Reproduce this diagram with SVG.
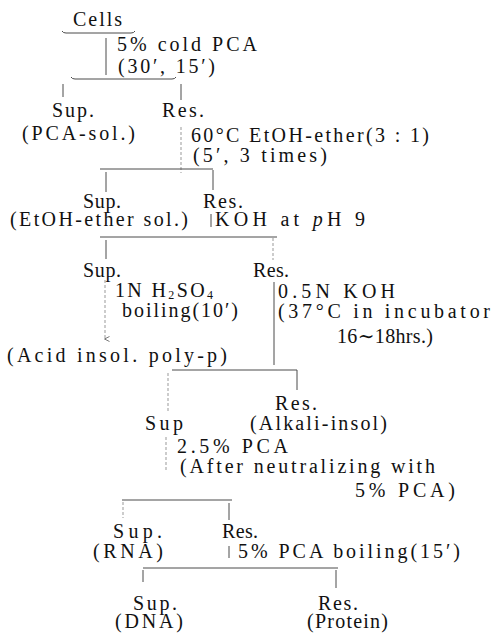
<svg xmlns="http://www.w3.org/2000/svg" width="493" height="633" viewBox="0 0 493 633">
<style>
text{font-family:"Liberation Serif","DejaVu Serif",serif;font-size:20px;fill:#111}
.c line,.c path{stroke:#4a4a4a;stroke-width:1;fill:none}
.c .f{stroke:#999;stroke-dasharray:3 2}
.sub{font-size:12px}
</style>
<defs>
<marker id="ah" viewBox="0 0 6 6" refX="3" refY="5" markerWidth="6" markerHeight="6" orient="auto-start-reverse" markerUnits="userSpaceOnUse">
<path d="M0.5,0.5 L3,5.5 L5.5,0.5" fill="none" stroke="#555" stroke-width="0.8"/>
</marker>
</defs>
<rect width="493" height="633" fill="#fff"/>
<g class="c" id="connectors">
<path d="M62,31 Q63,33 66,33 L131,33 Q134,33 135,31"/>
<line x1="106" y1="38" x2="106" y2="75"/>
<path d="M71,77 Q72,79 75,79 L172,79 Q175,79 176,77"/>
<line x1="63" y1="84" x2="63" y2="97"/>
<line x1="181" y1="84" x2="181" y2="100"/>
<line x1="181" y1="127" x2="181" y2="173" class="f"/>
<line x1="100" y1="169" x2="213" y2="169"/>
<line x1="106" y1="172" x2="106" y2="192"/>
<line x1="213" y1="170" x2="213" y2="190"/>
<line x1="211" y1="214" x2="211" y2="227"/>
<line x1="100" y1="237" x2="277" y2="237"/>
<line x1="106" y1="240" x2="106" y2="259"/>
<line x1="273" y1="238" x2="273" y2="260" class="f"/>
<line x1="105" y1="280" x2="105" y2="339" class="f" marker-end="url(#ah)"/>
<line x1="274" y1="282" x2="274" y2="365"/>
<line x1="172" y1="370" x2="297" y2="370"/>
<line x1="297" y1="370" x2="297" y2="390"/>
<line x1="168" y1="373" x2="168" y2="413" class="f"/>
<line x1="166" y1="437" x2="166" y2="470" class="f"/>
<line x1="122" y1="500" x2="232" y2="500"/>
<line x1="123" y1="502" x2="123" y2="518" class="f"/>
<line x1="229" y1="503" x2="229" y2="520"/>
<line x1="229" y1="546" x2="229" y2="558"/>
<line x1="143" y1="568" x2="338" y2="568"/>
<line x1="143" y1="570" x2="143" y2="582"/>
<line x1="336" y1="570" x2="336" y2="588"/>
</g>
<g id="cells"><text x="73" y="26" textLength="49" lengthAdjust="spacing">Cells</text></g>
<g id="step1"><text x="117" y="51" textLength="140" lengthAdjust="spacing">5% cold PCA</text>
<text x="118" y="73" textLength="97" lengthAdjust="spacing">(30′, 15′)</text></g>
<g id="sup1"><text x="52" y="117" textLength="42" lengthAdjust="spacing">Sup.</text>
<text x="22" y="140" textLength="113" lengthAdjust="spacing">(PCA-sol.)</text></g>
<g id="res1"><text x="162" y="117" textLength="42" lengthAdjust="spacing">Res.</text></g>
<g id="step2"><text x="191" y="142" textLength="238" lengthAdjust="spacing">60°C EtOH-ether(3 : 1)</text>
<text x="193" y="162" textLength="134" lengthAdjust="spacing">(5′, 3 times)</text></g>
<g id="sup2"><text x="83" y="208" textLength="38" lengthAdjust="spacing">Sup.</text>
<text x="10" y="226" textLength="178" lengthAdjust="spacing">(EtOH-ether sol.)</text></g>
<g id="res2"><text x="203" y="208" textLength="40" lengthAdjust="spacing">Res.</text></g>
<g id="step3"><text x="215" y="226" textLength="150" lengthAdjust="spacing">KOH at <tspan font-style="italic">p</tspan>H 9</text></g>
<g id="sup3"><text x="83" y="277" textLength="38" lengthAdjust="spacing">Sup.</text></g>
<g id="res3"><text x="253" y="277" textLength="36" lengthAdjust="spacing">Res.</text></g>
<g id="step4a"><text x="115" y="297" textLength="98" lengthAdjust="spacing">1N H<tspan class="sub" dy="2">2</tspan><tspan dy="-2">SO</tspan><tspan class="sub" dy="2">4</tspan></text>
<text x="122" y="317" textLength="116" lengthAdjust="spacing">boiling(10′)</text></g>
<g id="step4b"><text x="278" y="298" textLength="117" lengthAdjust="spacing">0.5N KOH</text>
<text x="278" y="318" textLength="212" lengthAdjust="spacing">(37°C in incubator</text>
<text x="337" y="343" textLength="96" lengthAdjust="spacing">16∼18hrs.)</text></g>
<g id="polyp"><text x="7" y="362" textLength="220" lengthAdjust="spacing">(Acid insol. poly-p)</text></g>
<g id="res4"><text x="275" y="410" textLength="42" lengthAdjust="spacing">Res.</text>
<text x="250" y="430" textLength="137" lengthAdjust="spacing">(Alkali-insol)</text></g>
<g id="sup4"><text x="145" y="430" textLength="38" lengthAdjust="spacing">Sup</text></g>
<g id="step5"><text x="177" y="453" textLength="111" lengthAdjust="spacing">2.5% PCA</text>
<text x="180" y="473" textLength="255" lengthAdjust="spacing">(After neutralizing with</text>
<text x="355" y="497" textLength="100" lengthAdjust="spacing">5% PCA)</text></g>
<g id="sup5"><text x="113" y="538" textLength="49" lengthAdjust="spacing">Sup.</text>
<text x="93" y="558" textLength="70" lengthAdjust="spacing">(RNA)</text></g>
<g id="res5"><text x="222" y="538" textLength="36" lengthAdjust="spacing">Res.</text></g>
<g id="step6"><text x="238" y="558" textLength="222" lengthAdjust="spacing">5% PCA boiling(15′)</text></g>
<g id="sup6"><text x="133" y="610" textLength="44" lengthAdjust="spacing">Sup.</text>
<text x="115" y="628" textLength="68" lengthAdjust="spacing">(DNA)</text></g>
<g id="res6"><text x="318" y="610" textLength="40" lengthAdjust="spacing">Res.</text>
<text x="307" y="628" textLength="81" lengthAdjust="spacing">(Protein)</text></g>
</svg>
